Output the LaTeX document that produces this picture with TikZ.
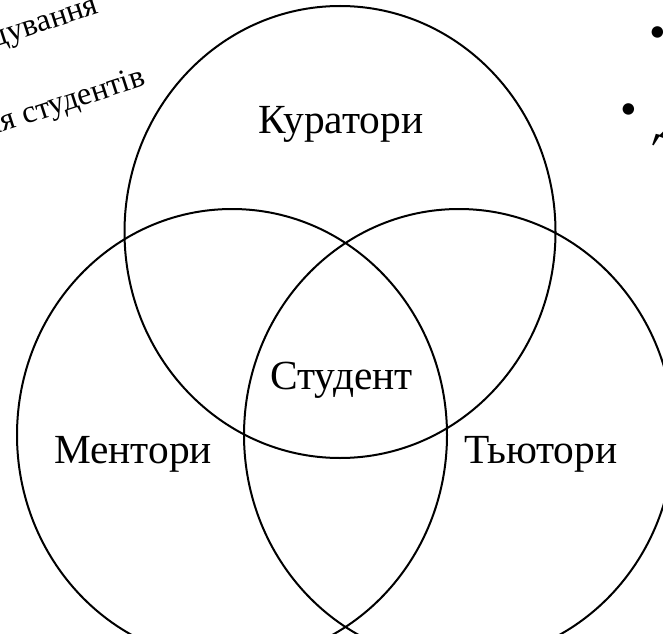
\documentclass[tikz,border=0pt]{standalone}
\usepackage{fontspec}
\setmainfont{Liberation Serif}
\begin{document}
\begin{tikzpicture}[x=0.5pt, y=0.5pt,
		ring/.style={line width=1pt},
		lbl/.style={font=\fontsize{20.7}{24}\selectfont, anchor=base, inner sep=0pt},
		margtext/.style={font=\fontsize{16}{19}\selectfont, inner sep=0pt},
		listtext/.style={font=\fontsize{24}{28}\selectfont, inner sep=0pt}]
		\useasboundingbox (0,0) rectangle (663,633);
		\clip (0,0) rectangle (663,633);
		\coordinate (kur) at (340,401);
		\coordinate (men) at (232,198);
		\coordinate (tut) at (459,198);
		\draw[ring] (kur) ellipse [x radius=107.75pt, y radius=113pt];
		\draw[ring] (men) ellipse [x radius=107.5pt, y radius=113pt];
		\draw[ring] (tut) ellipse [x radius=107.5pt, y radius=113pt];
		\node[lbl] (tKur) at (341,499) {Куратори};
		\node[lbl] (tStud) at (341.5,244) {Студент};
		\node[lbl] (tMen) at (133,170) {Ментори};
		\node[lbl] (tTut) at (541,170) {Тьютори};
%		cut-off text at the edges
		\node[margtext, anchor=base east, rotate=18] (lineA) at (100,620) {дування};
		\node[margtext, anchor=base east, rotate=18] (lineB) at (147,548) {для студентів};
		\node[listtext, rotate=-20] (dotA) at (656,596) {•};
		\node[listtext, rotate=-20] (dotB) at (627,519) {•};
		\node[listtext, anchor=base west, rotate=-20] (itemB) at (655,498) {Д};
	\end{tikzpicture}
\end{document}
